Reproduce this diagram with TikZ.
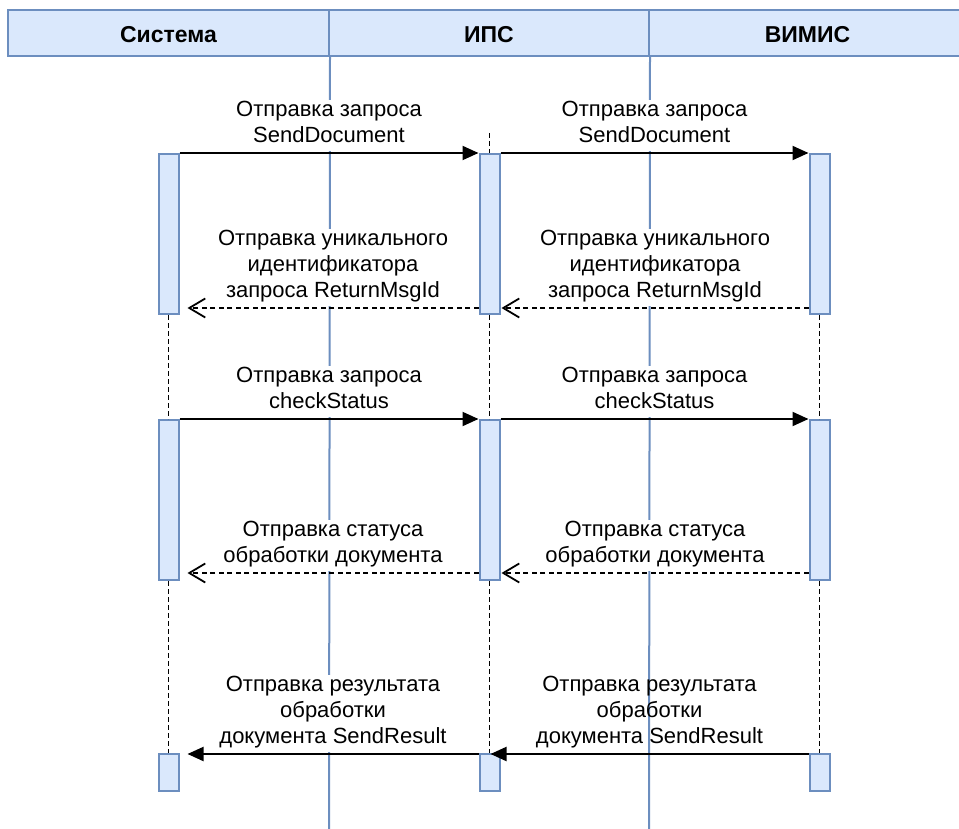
\documentclass[tikz,border=0pt]{standalone}
\usepackage{fontspec}
\setmainfont{Liberation Sans}
\usetikzlibrary{arrows.meta,calc}
\definecolor{laneblue}{RGB}{108,142,191}
\definecolor{lanefill}{RGB}{218,232,252}
\begin{document}
\begin{tikzpicture}[x=1pt,y=-1pt,
  hcell/.style={draw=laneblue, fill=lanefill, line width=2pt, minimum height=46pt, inner sep=0pt,
    font=\fontsize{23}{26}\selectfont\bfseries, text height=20pt, text depth=0pt},
  lane/.style={draw=laneblue, line width=2pt},
  act/.style={draw=laneblue, fill=lanefill, line width=2pt, minimum width=20pt, inner sep=0pt},
  life/.style={draw=black, line width=1.8pt, dash pattern=on 5pt off 3pt},
  msg/.style={draw=black, line width=2pt, -{Triangle[length=16pt,width=14pt]}},
  ret/.style={draw=black, line width=1.8pt, dash pattern=on 5pt off 3.5pt, -{Straight Barb[length=16pt,width=19pt,line width=1.8pt]}},
  lab/.style={font=\fontsize{22}{26}\selectfont, align=center, fill=white, inner sep=1pt, anchor=south, yshift=1pt},
  labnf/.style={lab, fill=none}]
\useasboundingbox (0,0) rectangle (959,829);
\clip (0,0) rectangle (959,829);
% header
\node[hcell, minimum width=321pt] (hs) at (168.5,33) {Система};
\node[hcell, minimum width=320pt] (hi) at (489,33) {ИПС};
\node[hcell, minimum width=317pt] (hv) at (807.5,33) {ВИМИС};
% swimlane borders
\coordinate (lb1) at (329,835);
\coordinate (lb2) at (649,835);
\draw[lane] (hs.south east) -- (lb1);
\draw[lane] (hi.south east) -- (lb2);
% activation boxes
\node[act, minimum height=160pt] (s1) at (168.5,234) {};
\node[act, minimum height=160pt] (i1) at (489.5,234) {};
\node[act, minimum height=160pt] (v1) at (819.5,234) {};
\node[act, minimum height=160pt] (s2) at (168.5,500) {};
\node[act, minimum height=160pt] (i2) at (489.5,500) {};
\node[act, minimum height=160pt] (v2) at (819.5,500) {};
\node[act, minimum height=37pt] (s3) at (168.5,772.5) {};
\node[act, minimum height=37pt] (i3) at (489.5,772.5) {};
\node[act, minimum height=37pt] (v3) at (819.5,772.5) {};
% lifelines
\coordinate (itop) at (489.5,133);
\draw[life] (itop) -- (i1.north);
\draw[life] (s1.south) -- (s2.north);
\draw[life] (i1.south) -- (i2.north);
\draw[life] (v1.south) -- (v2.north);
\draw[life] (s2.south) -- (s3.north);
\draw[life] (i2.south) -- (i3.north);
\draw[life] (v2.south) -- (v3.north);
% messages 1
\draw[msg] (s1.north east) -- node[lab, name=m1a] {Отправка запроса\\SendDocument\strut} (i1.north west);
\draw[msg] (i1.north east) -- node[lab, name=m1b] {Отправка запроса\\SendDocument\strut} (v1.north west);
% returns 1
\draw[ret] ($(v1.south west)+(0,-7)$) -- node[lab, name=r1b] {Отправка уникального\\идентификатора\\запроса ReturnMsgId\strut} ($(i1.south east)+(1,-7)$);
\draw[ret] ($(i1.south west)+(0,-7)$) -- node[lab, name=r1a] {Отправка уникального\\идентификатора\\запроса ReturnMsgId\strut} ($(s1.south east)+(8,-7)$);
% messages 2
\draw[msg] (s2.north east) -- node[lab, name=m2a] {Отправка запроса\\checkStatus\strut} (i2.north west);
\draw[msg] (i2.north east) -- node[lab, name=m2b] {Отправка запроса\\checkStatus\strut} (v2.north west);
% returns 2
\draw[ret] ($(v2.south west)+(0,-8)$) -- node[lab, name=r2b] {Отправка статуса\\обработки документа\strut} ($(i2.south east)+(1,-8)$);
\draw[ret] ($(i2.south west)+(0,-8)$) -- node[lab, name=r2a] {Отправка статуса\\обработки документа\strut} ($(s2.south east)+(8,-8)$);
% messages 3
\draw[msg] ($(v3.north west)+(0,1)$) -- node[labnf, name=m3b] {Отправка результата\\обработки\\документа SendResult\strut} ($(i3.north)+(1,1)$);
\draw[msg] ($(i3.north west)+(0,1)$) -- node[lab, name=m3a] {Отправка результата\\обработки\\документа SendResult\strut} ($(s3.north east)+(8,1)$);
\end{tikzpicture}
\end{document}
